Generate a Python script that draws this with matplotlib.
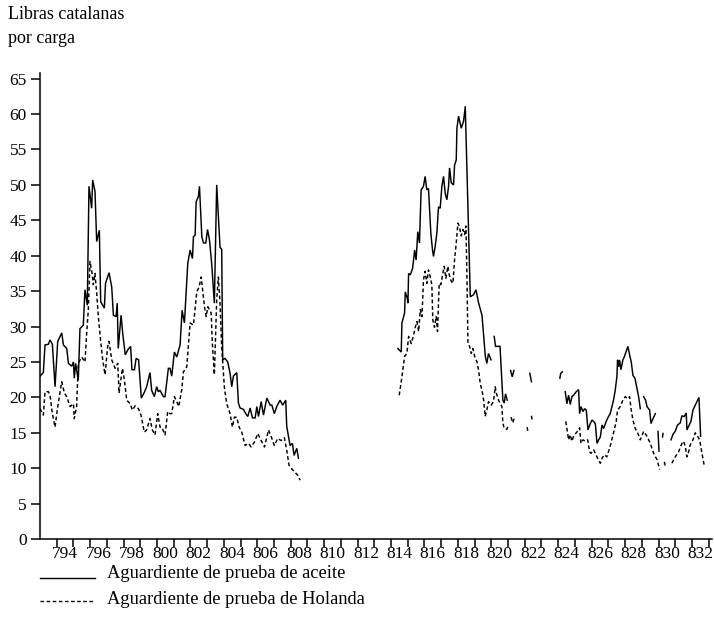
import numpy as np
import matplotlib.pyplot as plt
from matplotlib.lines import Line2D

plt.rcParams['font.family'] = ['Liberation Serif', 'DejaVu Serif']

# Precios mensuales (libras catalanas por carga); None = sin dato
aceite_t = [
    1793.00, 1793.20, 1793.30, 1793.50, 1793.60, 1793.74, 1793.90, 1794.06, 1794.30, 1794.40,
    1794.60, 1794.70, 1794.90, 1795.00, 1795.05, 1795.13, 1795.29, 1795.39, 1795.59, 1795.69,
    1795.83, 1795.93, 1796.09, 1796.15, 1796.29, 1796.39, 1796.55, 1796.63, 1796.85, 1796.92,
    1797.13, 1797.29, 1797.39, 1797.55, 1797.62, 1797.68, 1797.85, 1797.95, 1798.10, 1798.25,
    1798.42, 1798.50, 1798.65, 1798.75, 1798.90, 1799.06, 1799.22, 1799.38, 1799.58, 1799.68,
    1799.84, 1799.98, 1800.08, 1800.18, 1800.38, 1800.48, 1800.68, 1800.78, 1800.88, 1801.04,
    1801.18, 1801.38, 1801.50, 1801.64, 1801.84, 1801.98, 1802.12, 1802.18, 1802.28, 1802.34,
    1802.48, 1802.54, 1802.68, 1802.78, 1802.92, 1803.02, 1803.14, 1803.27, 1803.43, 1803.57,
    1803.77, 1803.87, 1803.93, 1804.07, 1804.23, 1804.37, 1804.47, 1804.57, 1804.77, 1804.87,
    1804.97, 1805.17, 1805.31, 1805.43, 1805.57, 1805.71, 1805.87, 1805.97, 1806.07, 1806.23,
    1806.37, 1806.57, 1806.77, 1806.87, 1807.02, 1807.16, 1807.36, 1807.52, 1807.70, 1807.76,
    1807.96, 1808.10, 1808.20, 1808.36, 1808.46,
    1810.0,
    1814.41, 1814.61, 1814.65, 1814.81, 1814.85, 1814.97, 1815.01, 1815.05, 1815.15, 1815.29,
    1815.41, 1815.50, 1815.60, 1815.70, 1815.80, 1815.94, 1816.04, 1816.14, 1816.24, 1816.38,
    1816.48, 1816.54, 1816.64, 1816.74, 1816.84, 1816.94, 1817.04, 1817.14, 1817.24, 1817.34,
    1817.44, 1817.50, 1817.60, 1817.74, 1817.80, 1817.90, 1817.94, 1818.04, 1818.20, 1818.34,
    1818.44, 1818.74, 1818.94, 1819.08, 1819.24, 1819.44, 1819.64, 1819.73, 1819.83, 1819.98,
    1820.08,
    1820.17, 1820.25, 1820.52, 1820.69, 1820.77, 1820.85, 1820.95,
    1821.05,
    1821.15, 1821.25, 1821.35,
    1821.8,
    1822.30, 1822.34, 1822.40,
    1823.0,
    1824.10, 1824.15, 1824.25,
    1824.35,
    1824.42, 1824.52, 1824.62, 1824.72, 1824.82, 1824.92, 1825.08, 1825.22, 1825.28, 1825.36,
    1825.48, 1825.58, 1825.68, 1825.78, 1825.92, 1826.02, 1826.12, 1826.22, 1826.32, 1826.42,
    1826.52, 1826.62, 1826.72, 1826.87, 1827.01, 1827.11, 1827.31, 1827.41, 1827.51, 1827.55,
    1827.61, 1827.67, 1827.75, 1827.87, 1827.95, 1828.07, 1828.17, 1828.27, 1828.37, 1828.47,
    1828.59, 1828.71, 1828.81, 1828.91,
    1829.0,
    1829.11, 1829.23, 1829.31, 1829.47, 1829.55, 1829.67, 1829.81,
    1829.9,
    1829.97, 1830.03,
    1830.1,
    1830.24, 1830.27,
    1830.5,
    1830.75, 1830.87, 1831.00, 1831.14, 1831.30, 1831.40, 1831.54, 1831.66, 1831.70, 1831.80,
    1831.94, 1832.06, 1832.20, 1832.30, 1832.42, 1832.52,
]
aceite_v = [
    23.0, 23.5, 27.4, 27.5, 28.1, 27.5, 21.5, 27.9, 29.1, 27.4,
    26.9, 24.8, 24.4, 25.0, 22.7, 24.8, 22.4, 29.7, 30.2, 35.2,
    33.0, 49.8, 46.7, 50.7, 49.1, 42.0, 43.6, 33.5, 32.6, 36.1,
    37.6, 35.6, 31.6, 31.4, 33.3, 26.9, 31.6, 29.0, 26.0, 26.7,
    27.2, 23.9, 23.9, 25.5, 25.3, 19.9, 20.6, 21.5, 23.5, 21.0,
    20.1, 21.5, 20.8, 21.0, 20.1, 20.1, 24.1, 24.1, 23.0, 26.4,
    25.7, 27.4, 32.3, 30.5, 38.9, 40.8, 39.6, 42.7, 42.9, 47.6,
    48.4, 49.8, 42.7, 41.8, 41.8, 43.7, 42.2, 38.9, 33.3, 50.0,
    41.2, 40.9, 25.3, 25.5, 25.0, 23.4, 21.5, 23.0, 23.5, 19.2,
    18.5, 18.3, 17.7, 17.3, 18.5, 17.1, 17.1, 18.7, 17.3, 19.4,
    17.5, 19.9, 18.9, 18.9, 17.7, 18.7, 19.6, 18.9, 19.6, 15.9,
    13.2, 13.5, 11.8, 12.8, 11.4,
    None,
    26.9, 26.4, 30.5, 31.9, 34.9, 34.0, 33.3, 37.5, 37.3, 38.2,
    40.8, 39.4, 43.4, 41.8, 49.3, 49.8, 51.2, 49.3, 49.5, 43.2,
    40.8, 39.9, 41.3, 43.2, 46.9, 46.7, 49.8, 51.2, 48.8, 47.9,
    49.8, 52.4, 50.3, 50.0, 52.8, 53.5, 58.0, 59.7, 58.0, 59.0,
    61.1, 34.2, 34.5, 35.2, 33.3, 31.6, 25.8, 24.8, 26.2, 25.3,
    None,
    28.6, 27.2, 27.2, 19.6, 19.2, 20.5, 19.6,
    None,
    23.8, 22.9, 23.8,
    None,
    23.4, 22.9, 22.2,
    None,
    22.7, 23.4, 23.6,
    None,
    20.8, 19.1, 20.3, 19.0, 20.1, 20.3, 20.8, 21.1, 17.7, 18.7,
    18.0, 18.4, 18.2, 15.4, 16.3, 16.8, 16.6, 16.3, 13.5, 14.0,
    14.4, 16.1, 15.6, 16.6, 17.3, 17.7, 19.6, 21.0, 22.9, 25.3,
    24.3, 25.3, 23.9, 25.3, 25.7, 26.5, 27.2, 26.0, 25.0, 23.1,
    22.7, 21.3, 20.1, 18.4,
    None,
    20.1, 19.6, 18.7, 18.2, 16.3, 17.0, 17.7,
    None,
    15.2, 12.4,
    None,
    14.4, 14.9,
    None,
    14.0, 14.8, 15.2, 16.1, 16.4, 17.4, 17.3, 17.8, 15.4, 15.9,
    16.6, 18.2, 18.9, 19.4, 20.0, 14.5,
]

holanda_t = [
    1793.00, 1793.20, 1793.30, 1793.50, 1793.60, 1793.74, 1793.90, 1794.06, 1794.30, 1794.46,
    1794.60, 1794.80, 1795.00, 1795.05, 1795.19, 1795.29, 1795.49, 1795.69, 1795.79, 1795.89,
    1795.99, 1796.13, 1796.19, 1796.29, 1796.39, 1796.49, 1796.63, 1796.75, 1796.89, 1797.05,
    1797.13, 1797.29, 1797.49, 1797.65, 1797.73, 1797.93, 1798.05, 1798.19, 1798.39, 1798.53,
    1798.69, 1798.89, 1799.04, 1799.24, 1799.38, 1799.58, 1799.72, 1799.88, 1800.04, 1800.18,
    1800.28, 1800.48, 1800.64, 1800.78, 1800.88, 1801.04, 1801.18, 1801.30, 1801.48, 1801.58,
    1801.78, 1801.98, 1802.18, 1802.38, 1802.52, 1802.64, 1802.84, 1802.94, 1803.04, 1803.24,
    1803.31, 1803.43, 1803.57, 1803.67, 1803.77, 1803.87, 1804.03, 1804.17, 1804.37, 1804.51,
    1804.63, 1804.77, 1804.91, 1805.07, 1805.27, 1805.47, 1805.63, 1805.83, 1806.03, 1806.23,
    1806.43, 1806.67, 1806.87, 1807.02, 1807.22, 1807.42, 1807.62, 1807.76, 1807.90, 1808.06,
    1808.22, 1808.42, 1808.56,
    1810.0,
    1814.49, 1814.65, 1814.81, 1814.95, 1815.05, 1815.21, 1815.35, 1815.45, 1815.55, 1815.65,
    1815.75, 1815.85, 1815.94, 1816.04, 1816.14, 1816.24, 1816.34, 1816.44, 1816.50, 1816.60,
    1816.70, 1816.78, 1816.88, 1816.98, 1817.08, 1817.18, 1817.28, 1817.40, 1817.48, 1817.60,
    1817.70, 1817.80, 1817.90, 1818.00, 1818.08, 1818.20, 1818.30, 1818.40, 1818.48, 1818.54,
    1818.60, 1818.70, 1818.80, 1818.90, 1819.00, 1819.14, 1819.24, 1819.34, 1819.44, 1819.54,
    1819.63, 1819.73, 1819.83, 1819.99, 1820.13, 1820.23, 1820.30, 1820.45, 1820.63, 1820.69,
    1820.77, 1820.93, 1821.00,
    1821.1,
    1821.18, 1821.28, 1821.40,
    1821.8,
    1822.14, 1822.19,
    1822.3,
    1822.40, 1822.44,
    1823.0,
    1824.45, 1824.56, 1824.62, 1824.72, 1824.82, 1824.92, 1825.08, 1825.22, 1825.28, 1825.36,
    1825.48, 1825.62, 1825.76, 1825.88, 1825.96, 1826.12, 1826.32, 1826.52, 1826.62, 1826.76,
    1826.91, 1827.11, 1827.31, 1827.47, 1827.55, 1827.71, 1827.87, 1828.01, 1828.15, 1828.27,
    1828.37, 1828.47, 1828.61, 1828.75, 1828.91, 1829.11, 1829.31, 1829.51, 1829.71, 1829.91,
    1830.07,
    1830.2,
    1830.35, 1830.41,
    1830.6,
    1830.80, 1831.00, 1831.20, 1831.40, 1831.50, 1831.60, 1831.70, 1831.80, 1831.90, 1832.06,
    1832.20, 1832.34, 1832.46, 1832.60, 1832.74,
]
holanda_v = [
    18.4, 17.5, 20.8, 20.8, 20.3, 17.7, 15.8, 18.7, 22.2, 20.6,
    20.1, 18.7, 19.1, 17.0, 18.7, 24.8, 25.7, 25.0, 29.0, 32.3,
    39.2, 37.3, 35.9, 37.5, 34.7, 31.4, 27.9, 25.3, 23.2, 27.2,
    27.9, 25.3, 24.1, 24.8, 20.6, 24.1, 22.4, 19.6, 19.1, 18.2,
    18.8, 18.4, 17.5, 15.1, 15.4, 17.0, 15.4, 14.7, 17.7, 15.8,
    15.8, 14.7, 18.0, 17.7, 17.7, 20.1, 19.4, 18.7, 21.1, 23.6,
    24.3, 30.5, 30.2, 34.9, 35.6, 37.0, 32.8, 31.4, 32.8, 31.9,
    27.6, 23.2, 33.7, 37.0, 33.3, 27.1, 21.4, 19.1, 17.7, 15.8,
    17.2, 17.2, 15.8, 15.1, 13.2, 13.5, 13.0, 13.7, 14.9, 13.9,
    13.0, 15.4, 14.2, 13.2, 14.2, 13.9, 14.3, 12.5, 10.4, 9.9,
    9.5, 9.0, 8.3,
    None,
    20.3, 22.9, 25.8, 26.2, 28.6, 27.6, 28.8, 29.9, 30.7, 29.3,
    32.4, 31.4, 36.6, 37.8, 36.1, 38.0, 37.1, 35.9, 30.9, 29.9,
    31.4, 29.3, 36.1, 35.9, 37.3, 38.5, 36.8, 38.5, 37.3, 36.4,
    36.1, 39.4, 41.8, 44.6, 44.2, 42.8, 43.7, 43.0, 44.2, 37.1,
    27.6, 27.2, 26.2, 26.9, 25.8, 25.0, 23.8, 21.9, 21.0, 19.6,
    17.3, 18.2, 19.4, 18.9, 19.4, 21.5, 20.6, 19.5, 18.7, 16.4,
    15.6, 15.5, 16.0,
    None,
    17.2, 16.4, 17.3,
    None,
    15.8, 15.1,
    None,
    17.4, 16.8,
    None,
    16.6, 15.0, 14.0, 14.7, 13.8, 14.5, 15.0, 15.4, 15.7, 13.5,
    14.0, 13.8, 14.0, 12.3, 12.1, 12.6, 11.6, 10.7, 11.4, 11.9,
    11.6, 13.1, 15.0, 16.6, 18.2, 18.7, 19.6, 20.1, 19.8, 20.1,
    18.2, 16.8, 15.6, 15.0, 14.0, 15.2, 14.5, 13.5, 12.1, 11.2,
    9.8,
    None,
    10.9, 10.2,
    None,
    10.7, 11.6, 12.3, 13.5, 13.8, 13.1, 11.6, 12.3, 13.3, 14.0,
    15.0, 14.5, 14.0, 12.1, 10.3,
]

serie_labels = ['Aguardiente de prueba de aceite', 'Aguardiente de prueba de Holanda']
anios_tick = np.arange(1794, 1834)
anios_label = np.arange(1794, 1833, 2)

a_v = np.array([np.nan if v is None else v for v in aceite_v], dtype=float)
h_v = np.array([np.nan if v is None else v for v in holanda_v], dtype=float)

fig = plt.figure(figsize=(7.14, 6.38), dpi=100)
ax = fig.add_axes([40 / 714, 1 - 539 / 638, 672 / 714, 466 / 638])

dash = (0, (2.6, 1.8))
ax.plot(aceite_t, a_v, color='black', lw=1.05, solid_joinstyle='miter')
ax.plot(holanda_t, h_v, color='black', lw=1.05, linestyle=dash)

ax.set_xlim(1793, 1833.2)
ax.set_ylim(0, 65.8)

for s in ['top', 'right']:
    ax.spines[s].set_visible(False)
for s in ['left', 'bottom']:
    ax.spines[s].set_linewidth(1.1)

ax.set_yticks(np.arange(0, 66, 5))
ax.tick_params(axis='y', direction='out', length=6.5, width=1.1, pad=3, labelsize=12.5)

ax.set_xticks(anios_tick)
ax.set_xticklabels([])
ax.tick_params(axis='x', which='major', direction='out', length=6, width=1.1)
ax.set_xticks(anios_label + 0.5, minor=True)
ax.set_xticklabels([str(y)[1:] for y in anios_label], minor=True)
ax.tick_params(axis='x', which='minor', length=0, pad=5, labelsize=12.5)

fig.text(8 / 714, 1 - 6 / 638, 'Libras catalanas\npor carga', ha='left', va='top',
         fontsize=13, linespacing=1.55)

# leyenda
fig.add_artist(Line2D([40 / 714, 95 / 714], [1 - 578 / 638] * 2, color='black', lw=1.0))
fig.add_artist(Line2D([40 / 714, 95 / 714], [1 - 601 / 638] * 2, color='black', lw=1.0,
                      linestyle=dash))
fig.text(107 / 714, 1 - 574 / 638, serie_labels[0], ha='left', va='center', fontsize=13.3)
fig.text(107 / 714, 1 - 599 / 638, serie_labels[1], ha='left', va='center', fontsize=13.3)

fig.savefig('out.png', dpi=100)
